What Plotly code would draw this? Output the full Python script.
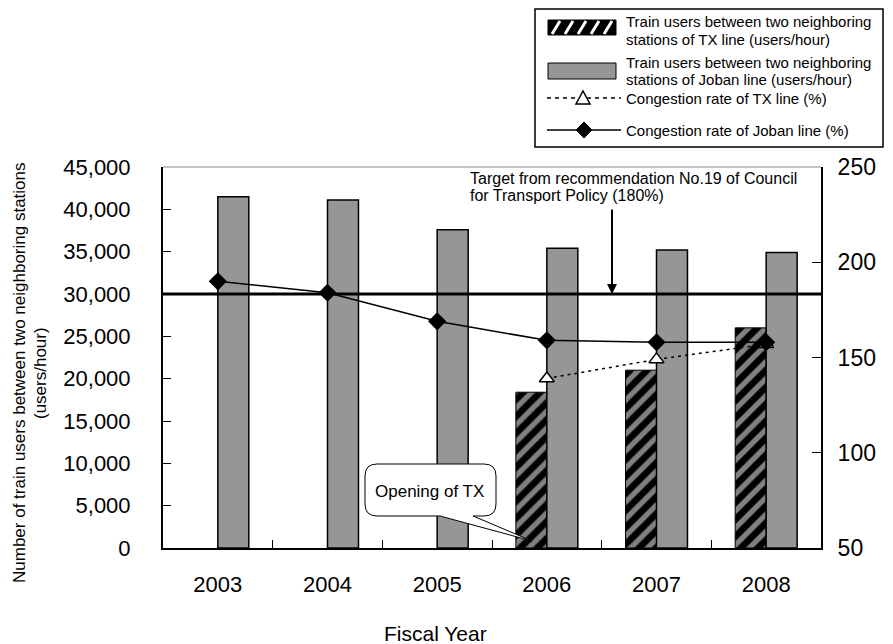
import plotly.graph_objects as go

# ---- data ----
years = ["2003", "2004", "2005", "2006", "2007", "2008"]
tx_users = [None, None, None, 18400, 21000, 26000]
joban_users = [41500, 41100, 37600, 35400, 35200, 34900]
tx_congestion = [None, None, None, 139, 149, 157]
joban_congestion = [190, 184, 169, 159, 158, 158]
target_users_level = 30000

series_names = [
    ["Train users between two neighboring", "stations of TX line (users/hour)"],
    ["Train users between two neighboring", "stations of Joban line (users/hour)"],
    ["Congestion rate of TX line (%)"],
    ["Congestion rate of Joban line (%)"],
]
left_ticks = [0, 5000, 10000, 15000, 20000, 25000, 30000, 35000, 40000, 45000]
right_ticks = [50, 100, 150, 200, 250]

FONT = "Liberation Sans, Arial, sans-serif"

# plot area in pixels
W, H = 893, 644
L, R, T, B = 163, 72, 167, 96
PW, PH = W - L - R, H - T - B


def px(x, y):
    return (x - L) / PW, (H - B - y) / PH


def P(x, y):
    a, b = px(x, y)
    return f"{a:.5f},{b:.5f}"


fig = go.Figure()
fig.add_trace(go.Bar(
    x=years, y=tx_users, name=" ".join(series_names[0]),
    marker=dict(color="black", line=dict(color="black", width=1),
                pattern=dict(shape="/", fgcolor="white", bgcolor="black", size=12, solidity=0.45)),
))
fig.add_trace(go.Bar(
    x=years, y=joban_users, name=" ".join(series_names[1]),
    marker=dict(color="#969696", line=dict(color="black", width=1.5)),
))
fig.add_trace(go.Scatter(
    x=years, y=tx_congestion, name=series_names[2][0], yaxis="y2", mode="lines+markers",
    line=dict(color="black", width=1.5, dash="3px,4px"),
    marker=dict(symbol="triangle-up", size=13, color="white", line=dict(color="black", width=1.5)),
))
fig.add_trace(go.Scatter(
    x=years, y=joban_congestion, name=series_names[3][0], yaxis="y2", mode="lines+markers",
    line=dict(color="black", width=1.5),
    marker=dict(symbol="diamond", size=14, color="black"),
))

shapes = []
# target line
shapes.append(dict(type="line", xref="paper", x0=0, x1=1, yref="y", y0=target_users_level,
                   y1=target_users_level, line=dict(color="black", width=3)))
# top frame line
shapes.append(dict(type="line", xref="paper", yref="paper", x0=0, x1=1, y0=1, y1=1,
                   line=dict(color="#888888", width=1)))

# callout box
x0, x1, y0, y1, r = 365, 496, 464, 516, 12
path = (f"M{P(x0 + r, y0)} L{P(x1 - r, y0)} Q{P(x1, y0)} {P(x1, y0 + r)} "
        f"L{P(x1, y1 - r)} Q{P(x1, y1)} {P(x1 - r, y1)} L{P(473, y1)} L{P(532, 541)} L{P(440, y1)} "
        f"L{P(x0 + r, y1)} Q{P(x0, y1)} {P(x0, y1 - r)} L{P(x0, y0 + r)} Q{P(x0, y0)} {P(x0 + r, y0)} Z")
shapes.append(dict(type="path", xref="paper", yref="paper", path=path,
                   line=dict(color="black", width=1), fillcolor="white", layer="above"))

# ---- custom legend ----
lb = (535, 9, 883, 147)
a0, b0 = px(lb[0], lb[1])
a1, b1 = px(lb[2], lb[3])
shapes.append(dict(type="rect", xref="paper", yref="paper", x0=a0, y0=b0, x1=a1, y1=b1,
                   line=dict(color="black", width=1.5), fillcolor="white"))
# hatched swatch
sx0, sx1 = 548, 616
sy0, sy1 = 20, 35
a0, b0 = px(sx0, sy0)
a1, b1 = px(sx1, sy1)
shapes.append(dict(type="rect", xref="paper", yref="paper", x0=a0, y0=b0, x1=a1, y1=b1,
                   line=dict(color="black", width=1), fillcolor="black"))
for xs in [552, 565, 578, 591, 604]:
    c0, d0 = px(xs, sy1 - 1)
    c1, d1 = px(xs + 8, sy0 + 1)
    shapes.append(dict(type="line", xref="paper", yref="paper", x0=c0, y0=d0, x1=c1, y1=d1,
                       line=dict(color="white", width=3)))
# gray swatch
a0, b0 = px(548, 63)
a1, b1 = px(616, 79)
shapes.append(dict(type="rect", xref="paper", yref="paper", x0=a0, y0=b0, x1=a1, y1=b1,
                   line=dict(color="black", width=1), fillcolor="#969696"))
# dashed line + triangle
a0, b0 = px(547, 98)
a1, _ = px(621, 98)
shapes.append(dict(type="line", xref="paper", yref="paper", x0=a0, y0=b0, x1=a1, y1=b0,
                   line=dict(color="black", width=1.5, dash="4px,4px")))
tcx, tcy = 583, 98
shapes.append(dict(type="path", xref="paper", yref="paper",
                   path=f"M{P(tcx - 7, tcy + 6)} L{P(tcx + 7, tcy + 6)} L{P(tcx, tcy - 7)} Z",
                   line=dict(color="black", width=1.5), fillcolor="white"))
# solid line + diamond
a0, b0 = px(547, 130)
a1, _ = px(621, 130)
shapes.append(dict(type="line", xref="paper", yref="paper", x0=a0, y0=b0, x1=a1, y1=b0,
                   line=dict(color="black", width=1.5)))
dcx, dcy = 584, 130
shapes.append(dict(type="path", xref="paper", yref="paper",
                   path=f"M{P(dcx - 8, dcy)} L{P(dcx, dcy - 8)} L{P(dcx + 8, dcy)} L{P(dcx, dcy + 8)} Z",
                   line=dict(color="black", width=1), fillcolor="black"))

annotations = []
legend_text_rows = [(series_names[0], 22), (series_names[1], 63), (series_names[2], 98), (series_names[3], 130)]
for lines, ytop in legend_text_rows:
    for i, line in enumerate(lines):
        ax_, ay_ = px(624, ytop + i * 17)
        annotations.append(dict(xref="paper", yref="paper", x=ax_, y=ay_, xanchor="left", yanchor="middle",
                                text=line, showarrow=False, font=dict(size=15, color="black", family=FONT)))

cx, cy = px(429, 491)
annotations.append(dict(xref="paper", yref="paper", x=cx, y=cy, xanchor="center", yanchor="middle",
                        text="Opening of TX", showarrow=False,
                        font=dict(size=17, color="black", family=FONT)))

for i, line in enumerate(["Target from recommendation No.19 of Council", "for Transport Policy (180%)"]):
    tx_, ty_ = px(468, 178 + i * 17.5)
    annotations.append(dict(xref="paper", yref="paper", x=tx_, y=ty_, xanchor="left", yanchor="middle",
                            text=line, showarrow=False, font=dict(size=16, color="black", family=FONT)))

ax_, _ = px(612, 0)
annotations.append(dict(xref="paper", yref="y", x=ax_, y=target_users_level, text="", showarrow=True,
                        arrowhead=2, arrowsize=1, arrowwidth=2, arrowcolor="black", ax=0, ay=-86))

for xc, line in [(19, "Number of train users between two neighboring stations"), (40, "(users/hour)")]:
    yx, yy = px(xc, 373)
    annotations.append(dict(xref="paper", yref="paper", x=yx, y=yy, xanchor="center", yanchor="middle",
                            textangle=-90, showarrow=False,
                            text=line, font=dict(size=17, color="black", family=FONT)))
fx, fy = px(435, 633)
annotations.append(dict(xref="paper", yref="paper", x=fx, y=fy, xanchor="center", yanchor="middle",
                        showarrow=False, text="Fiscal Year",
                        font=dict(size=21, color="black", family=FONT)))

fig.update_layout(
    width=W, height=H,
    margin=dict(l=L, r=R, t=T, b=B, autoexpand=False),
    paper_bgcolor="white", plot_bgcolor="white",
    font=dict(family=FONT, color="black"),
    barmode="group", bargap=0.435, bargroupgap=0,
    showlegend=False,
    shapes=shapes, annotations=annotations,
    xaxis=dict(type="category", showline=True, linecolor="black", linewidth=2, ticks="inside",
               tickson="boundaries", ticklen=8, tickcolor="black", showgrid=False, automargin=False,
               tickfont=dict(size=22, family=FONT), ticklabelstandoff=16),
    yaxis=dict(range=[0, 45000], tickvals=left_ticks, tickformat=",d", showline=True, linecolor="black",
               linewidth=2, ticks="inside", ticklen=8, tickcolor="black", showgrid=False, zeroline=False,
               automargin=False, tickfont=dict(size=22, family=FONT), ticklabelstandoff=26),
    yaxis2=dict(range=[50, 250], tickvals=right_ticks, overlaying="y", side="right", showline=True,
                linecolor="black", linewidth=2, ticks="inside", ticklen=9, tickcolor="black",
                showgrid=False, zeroline=False, automargin=False, tickfont=dict(size=23, family=FONT),
                ticklabelstandoff=10),
)

fig.write_html("out.html", config={"displayModeBar": False},
               post_script="document.documentElement.style.margin='0';document.body.style.margin='0';"
                           "document.body.style.padding='0';document.body.style.overflow='hidden';")
